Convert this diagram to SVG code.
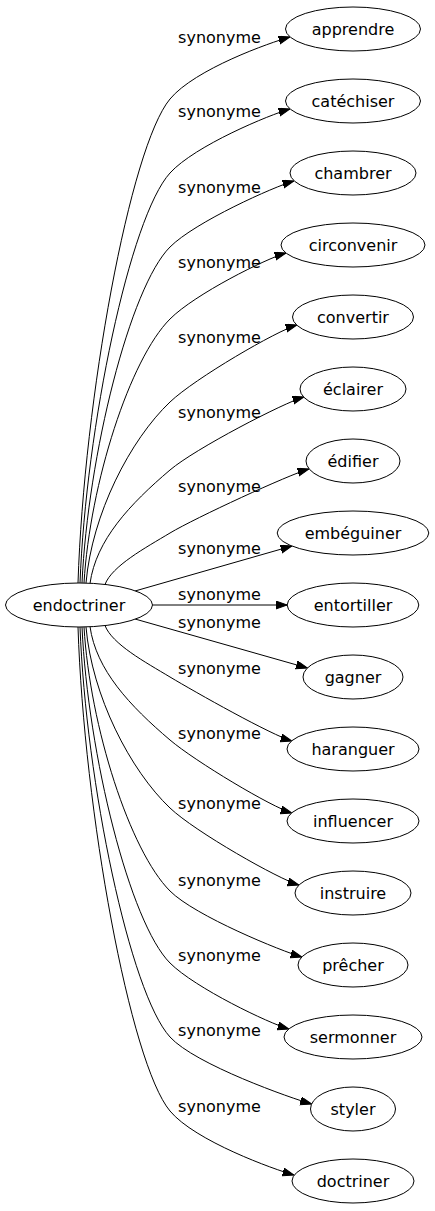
<svg xmlns="http://www.w3.org/2000/svg" width="435" height="1211" viewBox="0 0 435 1211">
<style>
.n ellipse{fill:#fff;stroke:#000;stroke-width:1}
.n text{font-family:"DejaVu Sans",sans-serif;font-size:16px;text-anchor:middle;fill:#000}
.e path{fill:none;stroke:#000;stroke-width:1}
.e text{font-family:"DejaVu Sans",sans-serif;font-size:16px;text-anchor:middle;fill:#000}
</style>
<defs>
<marker id="ah" markerUnits="userSpaceOnUse" markerWidth="12" markerHeight="9" refX="11.4" refY="4" orient="auto">
<path d="M0,0 L11.4,4 L0,8 Z" fill="#000" stroke="#000" stroke-width="1"/>
</marker>
</defs>
<rect width="435" height="1211" fill="#fff"/>
<g id="edges" class="e">
<path marker-end="url(#ah)" d="M78,583 C84,399 130,147 170,99 C195,69 270,42.6 290,37"/>
<text x="219.5" y="43">synonyme</text>
<path marker-end="url(#ah)" d="M80,583 C86,427 130,217 170,173 C195,145.5 270,114.6 290,109"/>
<text x="219.5" y="117">synonyme</text>
<path marker-end="url(#ah)" d="M82,583 C88,455 130,287 170,247 C195,222 274,186.6 294,181"/>
<text x="219.5" y="193">synonyme</text>
<path marker-end="url(#ah)" d="M84,583 C90,483 130,359 170,319 C195,294 266,258.6 286,253"/>
<text x="219.5" y="268">synonyme</text>
<path marker-end="url(#ah)" d="M86,583 C92,514 130,440 170,402 C195,378.25 277,330.6 297,325"/>
<text x="219.5" y="343">synonyme</text>
<path marker-end="url(#ah)" d="M90,583.5 C96,540 130,504 170,470 C195,448.75 284,402.6 304,397"/>
<text x="219.5" y="418">synonyme</text>
<path marker-end="url(#ah)" d="M105,584.5 C112,566 145,548 170,533 C195,518 289,474.6 309,469"/>
<text x="219.5" y="492">synonyme</text>
<path marker-end="url(#ah)" d="M135,591 L292,546"/>
<text x="219.5" y="554">synonyme</text>
<path marker-end="url(#ah)" d="M152.5,605 L287.2,605"/>
<text x="219.5" y="600">synonyme</text>
<path marker-end="url(#ah)" d="M135,619 L307.5,668"/>
<text x="219.5" y="628">synonyme</text>
<path marker-end="url(#ah)" d="M105,625.5 C112,644 145,662 170,677 C195,692 272,735.4 292,741"/>
<text x="219.5" y="674">synonyme</text>
<path marker-end="url(#ah)" d="M90,626.5 C96,670 130,706 170,740 C195,761.25 272,807.4 292,813"/>
<text x="219.5" y="739">synonyme</text>
<path marker-end="url(#ah)" d="M86,627 C92,696 130,770 170,808 C195,831.75 279,879.4 299,885"/>
<text x="219.5" y="809">synonyme</text>
<path marker-end="url(#ah)" d="M84,627 C90,727 130,851 170,891 C195,916 282,951.4 302,957"/>
<text x="219.5" y="886">synonyme</text>
<path marker-end="url(#ah)" d="M82,627 C88,755 130,923 170,963 C195,988 269,1023.4 289,1029"/>
<text x="219.5" y="961">synonyme</text>
<path marker-end="url(#ah)" d="M80,627 C86,783 130,993 170,1037 C195,1064.5 291.6,1098.4 311.6,1104"/>
<text x="219.5" y="1036">synonyme</text>
<path marker-end="url(#ah)" d="M78,627 C84,811 130,1063 170,1111 C195,1141 274,1169.4 294,1175"/>
<text x="219.5" y="1112">synonyme</text>
</g>
<g id="endoctriner" class="n"><ellipse cx="79" cy="605" rx="73.5" ry="22"/><text x="79" y="610.5">endoctriner</text></g>
<g id="apprendre" class="n"><ellipse cx="353" cy="29" rx="67.5" ry="22"/><text x="353" y="34.5">apprendre</text></g>
<g id="catechiser" class="n"><ellipse cx="353" cy="101" rx="67.5" ry="22"/><text x="353" y="106.5">catéchiser</text></g>
<g id="chambrer" class="n"><ellipse cx="353" cy="173" rx="63" ry="22"/><text x="353" y="178.5">chambrer</text></g>
<g id="circonvenir" class="n"><ellipse cx="353" cy="245" rx="72" ry="22"/><text x="353" y="250.5">circonvenir</text></g>
<g id="convertir" class="n"><ellipse cx="353" cy="317" rx="60.5" ry="22"/><text x="353" y="322.5">convertir</text></g>
<g id="eclairer" class="n"><ellipse cx="353" cy="389" rx="53" ry="22"/><text x="353" y="394.5">éclairer</text></g>
<g id="edifier" class="n"><ellipse cx="353" cy="461" rx="47" ry="22"/><text x="353" y="466.5">édifier</text></g>
<g id="embeguiner" class="n"><ellipse cx="353" cy="533" rx="75.8" ry="22"/><text x="353" y="538.5">embéguiner</text></g>
<g id="entortiller" class="n"><ellipse cx="353" cy="605" rx="65.8" ry="22"/><text x="353" y="610.5">entortiller</text></g>
<g id="gagner" class="n"><ellipse cx="353" cy="677" rx="50" ry="22"/><text x="353" y="682.5">gagner</text></g>
<g id="haranguer" class="n"><ellipse cx="353" cy="749" rx="66" ry="22"/><text x="353" y="754.5">haranguer</text></g>
<g id="influencer" class="n"><ellipse cx="353" cy="821" rx="66" ry="22"/><text x="353" y="826.5">influencer</text></g>
<g id="instruire" class="n"><ellipse cx="353" cy="893" rx="58" ry="22"/><text x="353" y="898.5">instruire</text></g>
<g id="precher" class="n"><ellipse cx="353" cy="965" rx="55" ry="22"/><text x="353" y="970.5">prêcher</text></g>
<g id="sermonner" class="n"><ellipse cx="353" cy="1037" rx="69" ry="22"/><text x="353" y="1042.5">sermonner</text></g>
<g id="styler" class="n"><ellipse cx="353" cy="1109" rx="42.5" ry="22"/><text x="353" y="1114.5">styler</text></g>
<g id="doctriner" class="n"><ellipse cx="353" cy="1181" rx="61" ry="22"/><text x="353" y="1186.5">doctriner</text></g>
</svg>
